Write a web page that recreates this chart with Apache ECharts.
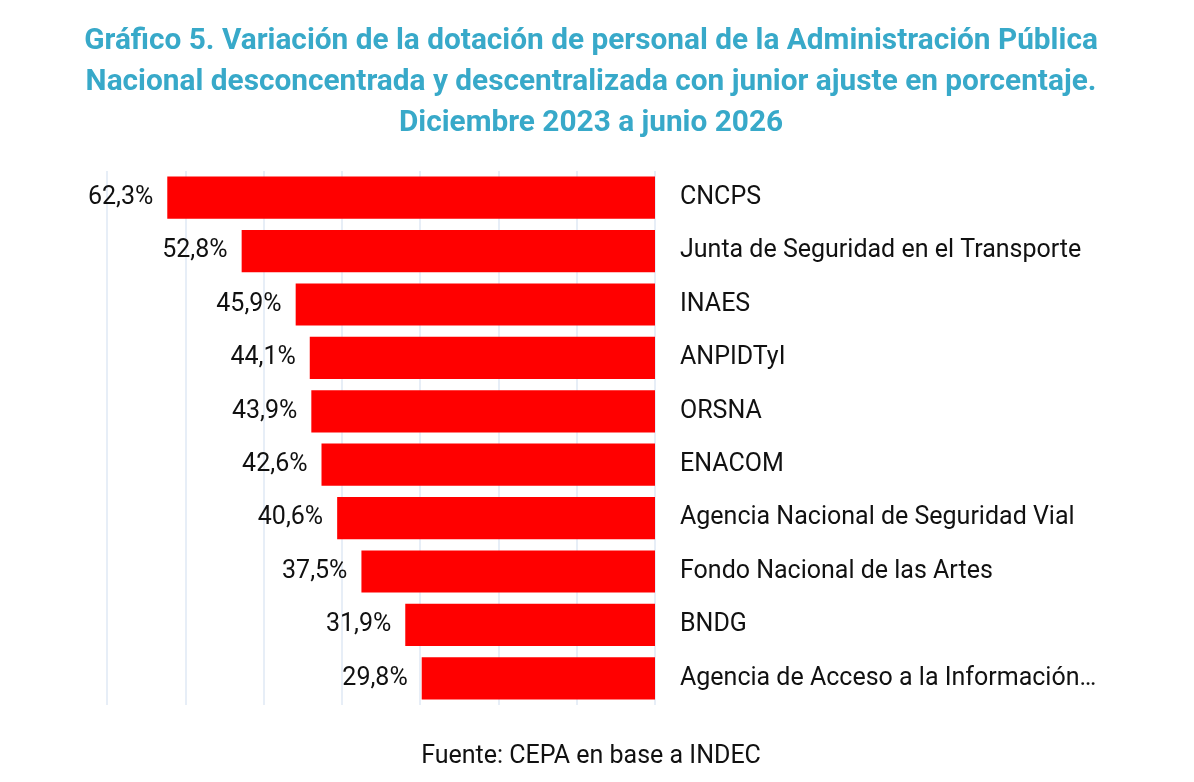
<!DOCTYPE html>
<html>
<head>
<meta charset="utf-8">
<script src="https://cdn.jsdelivr.net/npm/echarts@6/dist/echarts.min.js"></script>
<style>
  html, body { margin: 0; padding: 0; background: #fff; }
  #main { width: 1194px; height: 782px; }
</style>
</head>
<body>
<div id="main"></div>
<script>
var organismos = [
    'CNCPS',
    'Junta de Seguridad en el Transporte',
    'INAES',
    'ANPIDTyI',
    'ORSNA',
    'ENACOM',
    'Agencia Nacional de Seguridad Vial',
    'Fondo Nacional de las Artes',
    'BNDG',
    'Agencia de Acceso a la Información Pública'
];
var variacion = [62.3, 52.8, 45.9, 44.1, 43.9, 42.6, 40.6, 37.5, 31.9, 29.8];

var titulo = 'Gráfico 5. Variación de la dotación de personal de la Administración Pública\n' +
    'Nacional desconcentrada y descentralizada con junior ajuste en porcentaje.\n' +
    'Diciembre 2023 a junio 2026';
var fuente = 'Fuente: CEPA en base a INDEC';

var myChart = echarts.init(document.getElementById('main'));
myChart.setOption({
    animation: false,
    textStyle: { fontFamily: 'Roboto' },
    title: [
        {
            text: titulo,
            left: 586,
            top: 16,
            textAlign: 'center',
            textStyle: {
                fontFamily: 'Roboto',
                fontSize: 29.8,
                fontWeight: 'bold',
                color: '#38a9c9',
                lineHeight: 41
            }
        },
        {
            text: fuente,
            left: 586,
            top: 739,
            textAlign: 'center',
            textStyle: {
                fontFamily: 'Roboto',
                fontSize: 25,
                fontWeight: 'normal',
                color: '#111'
            }
        }
    ],
    grid: {
        left: 107,
        right: 539,
        top: 171,
        bottom: 77
    },
    xAxis: {
        type: 'value',
        inverse: true,
        min: 0,
        max: 70,
        interval: 10,
        axisLabel: { show: false },
        axisLine: { show: false },
        axisTick: { show: false },
        splitLine: { lineStyle: { color: '#dfe9f4', width: 1.5 } }
    },
    yAxis: {
        type: 'category',
        position: 'right',
        inverse: true,
        data: organismos,
        axisLine: { show: false },
        axisTick: { show: false },
        axisLabel: {
            margin: 25,
            fontSize: 25,
            color: '#111',
            padding: [4, 0, 0, 0],
            // nombres largos se recortan como en el original
            formatter: function (v) {
                return v.length > 36 ? v.slice(0, 34) + '…' : v;
            }
        }
    },
    series: [
        {
            type: 'bar',
            data: variacion,
            barWidth: '79%',
            itemStyle: { color: '#ff0000' },
            label: {
                show: true,
                position: 'left',
                distance: 14,
                fontSize: 25,
                color: '#111',
                padding: [4, 0, 0, 0],
                formatter: function (p) {
                    return p.value.toFixed(1).replace('.', ',') + '%';
                }
            }
        }
    ]
});
</script>
</body>
</html>
